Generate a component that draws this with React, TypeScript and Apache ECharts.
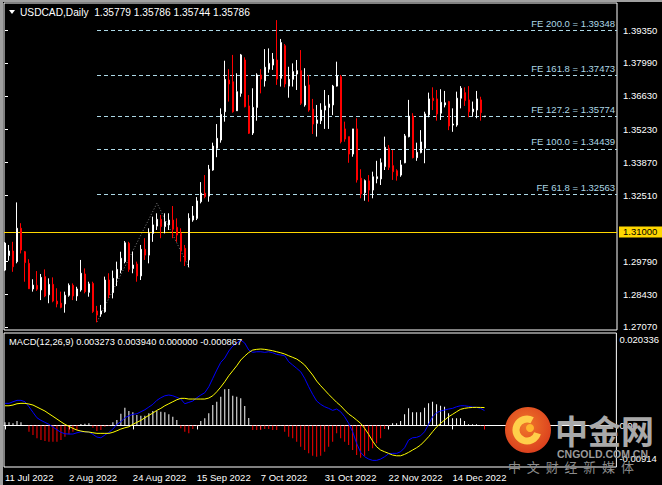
import React, { useEffect, useRef } from 'react';
import * as echarts from 'echarts';

// ---- Daily USDCAD bars (index 0 = 11 Jul 2022) ----
const opens = [
  1.2942, 1.3002, 1.3021, 1.2977, 1.3115, 1.3018, 1.2970, 1.2864, 1.2879, 1.2860,
  1.2915, 1.2840, 1.2883, 1.2814, 1.2805, 1.2802, 1.2838, 1.2879, 1.2835, 1.2860,
  1.2926, 1.2850, 1.2887, 1.2773, 1.2760, 1.2770, 1.2901, 1.2849, 1.2908, 1.2942,
  1.2977, 1.3053, 1.2949, 1.2967, 1.2918, 1.3028, 1.3004, 1.3094, 1.3124, 1.3152,
  1.3122, 1.3129, 1.3149, 1.3119, 1.3094, 1.3032, 1.2984, 1.3149, 1.3156, 1.3225,
  1.3260, 1.3248, 1.3356, 1.3446, 1.3480, 1.3597, 1.3728, 1.3721, 1.3601, 1.3673,
  1.3811, 1.3621, 1.3509, 1.3615, 1.3749, 1.3725, 1.3773, 1.3790, 1.3811, 1.3735,
  1.3870, 1.3703, 1.3731, 1.3753, 1.3767, 1.3625, 1.3708, 1.3608, 1.3549, 1.3560,
  1.3604, 1.3615, 1.3625, 1.3703, 1.3742, 1.3526, 1.3494, 1.3422, 1.3526, 1.3322,
  1.3262, 1.3311, 1.3273, 1.3320, 1.3319, 1.3370, 1.3446, 1.3374, 1.3353, 1.3335,
  1.3386, 1.3494, 1.3579, 1.3407, 1.3428, 1.3446, 1.3584, 1.3653, 1.3650, 1.3591,
  1.3625, 1.3639, 1.3542, 1.3542, 1.3653, 1.3676, 1.3646, 1.3597, 1.3604, 1.3646,
  1.35779,
];
const highs = [
  1.3058, 1.3046, 1.3059, 1.3222, 1.3136, 1.3021, 1.2987, 1.2904, 1.2938, 1.2926,
  1.2945, 1.2908, 1.2912, 1.2867, 1.2853, 1.2853, 1.2887, 1.2887, 1.2873, 1.2984,
  1.2949, 1.2894, 1.2894, 1.2794, 1.2798, 1.2915, 1.2929, 1.2940, 1.2977, 1.3018,
  1.3062, 1.3059, 1.3018, 1.2977, 1.3046, 1.3074, 1.3115, 1.3163, 1.3177, 1.3170,
  1.3177, 1.3177, 1.3207, 1.3156, 1.3115, 1.3046, 1.3177, 1.3207, 1.3244, 1.3306,
  1.3335, 1.3377, 1.3469, 1.3546, 1.3611, 1.3808, 1.3773, 1.3832, 1.3756, 1.3836,
  1.3822, 1.3666, 1.3694, 1.3756, 1.3773, 1.3856, 1.3859, 1.3840, 1.3976, 1.3898,
  1.3877, 1.3783, 1.3797, 1.3811, 1.3852, 1.3777, 1.3749, 1.3650, 1.3625, 1.3632,
  1.3687, 1.3666, 1.3708, 1.3804, 1.3749, 1.3556, 1.3494, 1.3526, 1.3570, 1.3359,
  1.3317, 1.3335, 1.3349, 1.3394, 1.3404, 1.3494, 1.3459, 1.3439, 1.3359, 1.3397,
  1.3505, 1.3646, 1.3591, 1.3469, 1.3521, 1.3597, 1.3676, 1.3698, 1.3687, 1.3690,
  1.3683, 1.3642, 1.3611, 1.3680, 1.3703, 1.3698, 1.3703, 1.3639, 1.3683, 1.3659,
  1.35786,
];
const lows = [
  1.2938, 1.2981, 1.2935, 1.2970, 1.3011, 1.2894, 1.2864, 1.2853, 1.2856, 1.2818,
  1.2830, 1.2805, 1.2809, 1.2788, 1.2784, 1.2766, 1.2832, 1.2818, 1.2815, 1.2853,
  1.2846, 1.2832, 1.2765, 1.2726, 1.2749, 1.2766, 1.2825, 1.2825, 1.2876, 1.2929,
  1.2970, 1.2935, 1.2929, 1.2894, 1.2901, 1.2984, 1.2970, 1.3059, 1.3108, 1.3074,
  1.3094, 1.3108, 1.3074, 1.3059, 1.2977, 1.2959, 1.2954, 1.3142, 1.3149, 1.3218,
  1.3239, 1.3225, 1.3353, 1.3409, 1.3469, 1.3556, 1.3639, 1.3593, 1.3600, 1.3659,
  1.3615, 1.3505, 1.3501, 1.3560, 1.3673, 1.3701, 1.3758, 1.3770, 1.3708, 1.3701,
  1.3698, 1.3655, 1.3701, 1.3687, 1.3625, 1.3618, 1.3597, 1.3505, 1.3494, 1.3546,
  1.3526, 1.3526, 1.3583, 1.3701, 1.3466, 1.3473, 1.3386, 1.3411, 1.3304, 1.3239,
  1.3229, 1.3225, 1.3239, 1.3301, 1.3294, 1.3356, 1.3356, 1.3315, 1.3312, 1.3328,
  1.3384, 1.3491, 1.3404, 1.3394, 1.3425, 1.3384, 1.3574, 1.3604, 1.3560, 1.3563,
  1.3615, 1.3521, 1.3514, 1.3535, 1.3611, 1.3621, 1.3574, 1.3576, 1.3570, 1.3560,
  1.35744,
];
const closes = [
  1.3054, 1.3021, 1.2956, 1.3115, 1.3025, 1.2973, 1.2865, 1.2880, 1.2863, 1.2912,
  1.2835, 1.2883, 1.2814, 1.2802, 1.2788, 1.2838, 1.2879, 1.2835, 1.2864, 1.2929,
  1.2853, 1.2885, 1.2771, 1.2756, 1.2773, 1.2901, 1.2839, 1.2908, 1.2945, 1.2991,
  1.3055, 1.2945, 1.2963, 1.2918, 1.3028, 1.3004, 1.3094, 1.3129, 1.3152, 1.3122,
  1.3142, 1.3149, 1.3111, 1.3087, 1.3022, 1.2981, 1.3156, 1.3166, 1.3228, 1.3260,
  1.3246, 1.3359, 1.3455, 1.3487, 1.3586, 1.3731, 1.3712, 1.3597, 1.3680, 1.3832,
  1.3618, 1.3508, 1.3615, 1.3749, 1.3732, 1.3781, 1.3797, 1.3814, 1.3732, 1.3883,
  1.3712, 1.3731, 1.3763, 1.3767, 1.3632, 1.3703, 1.3604, 1.3546, 1.3563, 1.3604,
  1.3621, 1.3629, 1.3703, 1.3745, 1.3473, 1.3484, 1.3422, 1.3526, 1.3315, 1.3257,
  1.3312, 1.3273, 1.3328, 1.3328, 1.3386, 1.3450, 1.3367, 1.3349, 1.3332, 1.3377,
  1.3497, 1.3579, 1.3407, 1.3429, 1.3472, 1.3588, 1.3650, 1.3643, 1.3588, 1.3636,
  1.3634, 1.3538, 1.3546, 1.3653, 1.3694, 1.3643, 1.3597, 1.3608, 1.3650, 1.3593,
  1.35786,
];

// ---- MACD(12,26,9) ----
const macdMain = [
  0.00486, 0.00486, 0.00521, 0.00552, 0.00552, 0.00521, 0.00411, 0.00288, 0.00169, 0.00112,
  0.00068, 0.00024, -0.00035, -0.00095, -0.00152, -0.00183, -0.00189, -0.00189, -0.00161, -0.00139,
  -0.00139, -0.00145, -0.00196, -0.00255, -0.00271, -0.00211, -0.00152, -0.00079, 0.00024, 0.00081,
  0.00169, 0.00213, 0.00244, 0.00257, 0.00301, 0.00345, 0.00405, 0.00464, 0.00552, 0.00609,
  0.00653, 0.00669, 0.00653, 0.00618, 0.00581, 0.00477, 0.00508, 0.00537, 0.00609, 0.00669,
  0.00719, 0.00851, 0.01036, 0.01219, 0.01388, 0.01483, 0.01637, 0.01747, 0.01813, 0.01879,
  0.01813, 0.01659, 0.01608, 0.01621, 0.01621, 0.01608, 0.01621, 0.01599, 0.01564, 0.01549,
  0.01533, 0.01401, 0.01329, 0.01256, 0.01181, 0.01036, 0.00851, 0.00684, 0.00537, 0.00464,
  0.00411, 0.00376, 0.00332, 0.00361, 0.00301, 0.00191, 0.00046, -0.00139, -0.00394, -0.00592,
  -0.00689, -0.00739, -0.00768, -0.00768, -0.00739, -0.00689, -0.00623, -0.00614, -0.00614, -0.00579,
  -0.00491, -0.00321, -0.00271, -0.00262, -0.00227, -0.00139, 0.00024, 0.00191, 0.00279, 0.00317,
  0.00339, 0.00361, 0.00376, 0.00411, 0.00433, 0.00433, 0.0042, 0.00405, 0.00398, 0.00376,
  0.003273,
];
const macdSignal = [
  0.00433, 0.00433, 0.00449, 0.00477, 0.00486, 0.00486, 0.00471, 0.00449, 0.00405, 0.00361,
  0.00317, 0.00257, 0.002, 0.00141, 0.00081, 0.00024, -0.0002, -0.00064, -0.00101, -0.00123,
  -0.00139, -0.00145, -0.00161, -0.00174, -0.00174, -0.00174, -0.00174, -0.00152, -0.00117, -0.00079,
  -0.00051, -0.00029, 0.00024, 0.00068, 0.00112, 0.00169, 0.00222, 0.00273, 0.00332, 0.00376,
  0.00433, 0.00477, 0.00521, 0.00565, 0.00596, 0.00596, 0.00581, 0.00581, 0.00581, 0.00581,
  0.00581, 0.00603, 0.00653, 0.00741, 0.00845, 0.00961, 0.01093, 0.01203, 0.01313, 0.01439,
  0.01527, 0.01604, 0.01659, 0.01674, 0.01681, 0.01674, 0.01659, 0.01643, 0.01621, 0.01599,
  0.01571, 0.01533, 0.01498, 0.01461, 0.01401, 0.01329, 0.01219, 0.01109, 0.00977, 0.00873,
  0.00779, 0.00684, 0.00596, 0.00508, 0.00433, 0.00339, 0.00251, 0.00191, 0.00119, 0.00046,
  -0.00064, -0.00196, -0.00343, -0.00469, -0.00541, -0.00579, -0.00614, -0.00651, -0.00667, -0.00667,
  -0.00636, -0.00592, -0.00541, -0.00491, -0.00431, -0.00343, -0.00249, -0.00139, -0.00035, 0.00046,
  0.00119, 0.00191, 0.00244, 0.00301, 0.00354, 0.00376, 0.00389, 0.00396, 0.00398, 0.00396,
  0.00394,
];
const macdHist = [
  0.00068, 0.00068, 0.00046, 0.00097, 0.00068, 0.0001, -0.00139, -0.00211, -0.00284, -0.00321,
  -0.00343, -0.00359, -0.00359, -0.00359, -0.00321, -0.00249, -0.00196, -0.00139, -0.00101, 0.00031,
  0.00037, 0.00046, -0.00051, -0.00123, -0.00101, -0.00029, -0.00013, 0.00068, 0.00119, 0.00257,
  0.00389, 0.00317, 0.00288, 0.00229, 0.00213, 0.00213, 0.00266, 0.00317, 0.00317, 0.00301,
  0.00288, 0.00244, 0.00191, 0.00119, -0.00064, -0.00139, -0.00174, -0.00079, -0.0001, 0.00097,
  0.00156, 0.00266, 0.00449, 0.00521, 0.00631, 0.00794, 0.00801, 0.00653, 0.00631, 0.00596,
  0.00427, 0.00163, -0.00101, -0.00101, -0.00101, -0.00079, -0.00079, -0.00101, -0.00101, -0.00007,
  -0.00139, -0.00249, -0.00284, -0.00359, -0.00469, -0.00541, -0.00614, -0.00667, -0.00689, -0.00667,
  -0.00579, -0.00469, -0.00359, -0.00174, -0.00284, -0.00359, -0.00431, -0.00541, -0.00651, -0.00711,
  -0.00667, -0.00563, -0.00504, -0.00394, -0.00284, -0.00079, -0.0001, 0.00046, 0.00046, 0.00097,
  0.00244, 0.00376, 0.00288, 0.00288, 0.00288, 0.00389, 0.00486, 0.00521, 0.00464, 0.00433,
  0.00411, 0.00266, 0.00156, 0.00156, 0.00156, 0.00097, 0.00024, 0.00024, 0.00024, -0.00007,
  -0.000867,
];
const macdThirdBuffer = 0;

// ---- axes / annotations ----
const priceTicks = [1.2707, 1.2843, 1.2979, 1.3251, 1.3387, 1.3523, 1.3663, 1.3799, 1.3935];
const priceMin = 1.26943;
const priceMax = 1.40467;
const macdMin = -0.00914;
const macdMax = 0.020336;
const macdLabelTexts = ['0.020336', '0.00', '-0.00914'];
const macdLabelAt = [0.0188, 0, -0.0072];
const dateTickBars = [0, 16, 32, 48, 64, 80, 96, 112];
const dateTickLabels = ['11 Jul 2022', '2 Aug 2022', '24 Aug 2022', '15 Sep 2022', '7 Oct 2022', '31 Oct 2022', '22 Nov 2022', '14 Dec 2022'];
const feNames = ['FE 200.0', 'FE 161.8', 'FE 127.2', 'FE 100.0', 'FE 61.8'];
const feValues = [1.39348, 1.37473, 1.35774, 1.34439, 1.32563];
const feStartBar = 23;
const fePointBars = [23, 38, 46];
const fePointPrices = [1.2728, 1.3219, 1.2953];
const supportLevel = 1.31;
const xMin = -0.25;
const xMax = 153;

const FONT = "'Liberation Sans', Arial, sans-serif";
const FS = 9.5;
const FE_COLOR = '#add8e6';

export default function App() {
  const ref = useRef<HTMLDivElement>(null);
  useEffect(() => {
    const chart = echarts.init(ref.current!, null, { renderer: 'svg' });
    const last = opens.length - 1;
    const lastPrice = closes[last];
    const title = `USDCAD,Daily  ${opens[last].toFixed(5)} ${highs[last].toFixed(5)} ${lows[last].toFixed(5)} ${closes[last].toFixed(5)}`;
    const macdTitle = `MACD(12,26,9) ${macdMain[last].toFixed(6)} ${macdSignal[last].toFixed(6)} ${macdThirdBuffer.toFixed(6)} ${macdHist[last].toFixed(6)}`;

    const option: any = {
      animation: false,
      backgroundColor: '#000',
      textStyle: { fontFamily: FONT },
      grid: [
        { left: 4, top: 3, width: 613, height: 327, show: true, borderColor: '#fff', borderWidth: 1, backgroundColor: '#000' },
        { left: 4, top: 333, width: 613, height: 134, show: true, borderColor: '#fff', borderWidth: 1, backgroundColor: '#000' },
      ],
      xAxis: [
        { type: 'value', gridIndex: 0, min: xMin, max: xMax, show: false },
        {
          type: 'value', gridIndex: 1, min: xMin, max: xMax,
          axisLine: { show: true, lineStyle: { color: '#fff' } },
          axisTick: { show: true, customValues: dateTickBars, length: 4, lineStyle: { color: '#fff' } },
          axisLabel: {
            customValues: dateTickBars,
            formatter: (v: number) => { const k = dateTickBars.indexOf(Math.round(v)); return k >= 0 ? dateTickLabels[k] : ''; },
            color: '#fff', fontSize: FS, fontFamily: FONT, align: 'left', margin: 5,
          },
          splitLine: { show: false },
        },
      ],
      yAxis: [
        {
          type: 'value', gridIndex: 0, position: 'right', min: priceMin, max: priceMax,
          axisLine: { show: false },
          axisTick: { show: true, customValues: priceTicks, length: 3, lineStyle: { color: '#fff' } },
          axisLabel: { customValues: priceTicks, formatter: (v: number) => v.toFixed(5), color: '#fff', fontSize: FS, fontFamily: FONT, margin: 6 },
          splitLine: { show: false },
        },
        {
          type: 'value', gridIndex: 1, position: 'right', min: macdMin, max: macdMax,
          axisLine: { show: false },
          axisTick: { show: false },
          axisLabel: {
            customValues: macdLabelAt,
            formatter: (v: number) => { const k = macdLabelAt.findIndex((a) => Math.abs(a - v) < 1e-6); return k >= 0 ? macdLabelTexts[k] : ''; },
            color: '#fff', fontSize: FS, fontFamily: FONT, margin: 3,
          },
          splitLine: { show: false },
        },
      ],
      series: [
        {
          type: 'line', xAxisIndex: 0, yAxisIndex: 0, silent: true, symbol: 'none', z: 1,
          data: fePointBars.map((b, k) => [b, fePointPrices[k]]),
          lineStyle: { color: '#808080', width: 1, type: [1, 2] },
        },
        {
          type: 'candlestick', xAxisIndex: 0, yAxisIndex: 0, z: 3,
          data: opens.map((o, i) => [i, o, closes[i], lows[i], highs[i]]),
          encode: { x: 0, y: [1, 2, 3, 4] },
          barWidth: 2,
          itemStyle: { color: '#ffffff', color0: '#ff0000', borderColor: '#ffffff', borderColor0: '#ff0000', borderWidth: 1 },
          markLine: {
            silent: true, symbol: ['none', 'none'], animation: false, z: 2,
            data: [
              ...feValues.map((v, k) => [
                {
                  coord: [feStartBar, v],
                  lineStyle: { color: FE_COLOR, type: [4, 3], width: 1 },
                  label: { show: true, position: 'insideEndTop', formatter: `${feNames[k]} = ${v.toFixed(5)}`, color: FE_COLOR, fontSize: FS, fontFamily: FONT, distance: [2, 2] },
                },
                { coord: [xMax, v] },
              ]),
              {
                yAxis: supportLevel,
                lineStyle: { color: '#ffd700', type: 'solid', width: 1 },
                label: { show: true, position: 'end', formatter: supportLevel.toFixed(5), backgroundColor: '#ffd700', color: '#000', padding: [1, 5, 0, 4], distance: 2, fontSize: FS, fontFamily: FONT },
              },
              {
                yAxis: lastPrice,
                lineStyle: { opacity: 0, width: 0 },
                label: { show: true, position: 'end', formatter: lastPrice.toFixed(5), backgroundColor: '#ffffff', color: '#000', padding: [1, 5, 0, 4], distance: 2, fontSize: FS, fontFamily: FONT },
              },
            ],
          },
        },
        {
          type: 'bar', xAxisIndex: 1, yAxisIndex: 1, barWidth: 1, silent: true,
          data: macdHist.map((v, i) => [i, v]),
          itemStyle: { color: (p: any) => (p.value[1] >= 0 ? '#ffffff' : '#ff0000') },
        },
        {
          type: 'line', xAxisIndex: 1, yAxisIndex: 1, symbol: 'none', silent: true,
          data: macdMain.map((v, i) => [i, v]),
          lineStyle: { color: '#0000ff', width: 1 },
        },
        {
          type: 'line', xAxisIndex: 1, yAxisIndex: 1, symbol: 'none', silent: true,
          data: macdSignal.map((v, i) => [i, v]),
          lineStyle: { color: '#ffff00', width: 1 },
        },
      ],
      graphic: [
        { type: 'rect', shape: { x: 0, y: 0, width: 3, height: 485 }, style: { fill: '#a0a0a0' }, z: 50 },
        { type: 'rect', shape: { x: 0, y: 0, width: 662, height: 2 }, style: { fill: '#a0a0a0' }, z: 50 },
        { type: 'polygon', shape: { points: [[9, 10], [15, 10], [12, 14]] }, style: { fill: '#ffffff' }, z: 50 },
        { type: 'text', x: 20, y: 12, style: { text: title, fill: '#ffffff', font: `10.2px ${FONT}`, verticalAlign: 'middle' }, z: 50 },
        { type: 'text', x: 9, y: 342, style: { text: macdTitle, fill: '#ffffff', font: `9.3px ${FONT}`, verticalAlign: 'middle' }, z: 50 },
        // watermark
        {
          type: 'circle', shape: { cx: 528, cy: 430, r: 23 }, z: 100,
          style: { fill: new echarts.graphic.RadialGradient(0.45, 0.4, 0.7, [{ offset: 0, color: '#f0782a' }, { offset: 1, color: '#d8381c' }]) },
        },
        { type: 'arc', shape: { cx: 527, cy: 430, r: 11, startAngle: 0.3, endAngle: 5.2 }, style: { stroke: '#ffcf4a', lineWidth: 7, fill: 'none' }, z: 101 },
        { type: 'circle', shape: { cx: 530, cy: 428, r: 4 }, style: { fill: '#ffb62e' }, z: 101 },
        { type: 'text', x: 555, y: 430, style: { text: '中金网', fill: '#a9a9a9', font: "bold 33px 'Noto Sans CJK SC'", verticalAlign: 'middle' }, z: 100 },
        { type: 'text', x: 557, y: 454, style: { text: 'CNGOLD.COM.CN', fill: '#9a9a9a', font: "bold 10.5px 'Liberation Sans'", verticalAlign: 'middle' }, z: 100 },
        { type: 'text', x: 508, y: 466, style: { text: '中  文  财  经  新  媒  体', fill: '#8c8c8c', font: "13px 'Noto Sans CJK SC'", verticalAlign: 'middle' }, z: 100 },
      ],
    };
    chart.setOption(option);
    return () => chart.dispose();
  }, []);
  return <div ref={ref} style={{ position: 'absolute', left: 0, top: 0, width: 662, height: 485, background: '#000' }} />;
}
